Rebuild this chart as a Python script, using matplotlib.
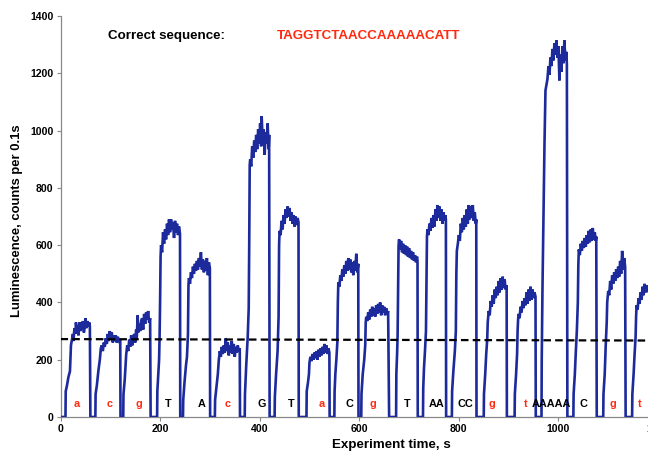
import matplotlib
matplotlib.use("Agg")
import matplotlib.pyplot as plt

# ---------------- data ----------------
trace_time = [
    # a
    0, 10, 10.5, 13, 16, 19, 21, 23, 25, 26, 28, 30, 31, 33, 35, 36, 38, 40, 42, 44, 45, 47, 49, 50, 52, 54, 56, 58, 59, 60, 70,
    # c
    70.5, 73, 76, 79, 81, 83, 85, 87, 89, 91, 93, 95, 97, 99, 101, 103, 105, 107, 109, 111, 113, 115, 118, 120, 120.5, 126,
    # g
    126.5, 129, 132, 134, 136, 138, 140, 142, 144, 146, 148, 150, 152, 153, 155, 156, 158, 160, 162, 164, 166, 168, 170, 172, 174, 176, 178, 180, 181, 194,
    # T
    194.5, 196, 198, 199, 200, 201, 202, 204, 206, 208, 210, 212, 214, 216, 218, 220, 222, 224, 226, 228, 230, 232, 234, 236, 238, 240, 240.5, 246,
    # A
    246.5, 249, 252, 254, 256, 257, 258, 260, 262, 264, 266, 268, 270, 272, 274, 276, 278, 280, 282, 284, 286, 288, 290, 292, 294, 296, 298, 300, 300.5, 310,
    # c
    310.5, 313, 316, 318, 320, 322, 324, 326, 328, 330, 332, 334, 336, 338, 340, 342, 344, 346, 348, 350, 352, 354, 356, 358, 360, 360.5, 370,
    # G
    370.5, 373, 376, 378, 379, 380, 381, 383, 385, 387, 389, 391, 393, 395, 397, 399, 401, 403, 404, 406, 408, 410, 412, 414, 416, 418, 419, 420, 430,
    # T
    430.5, 433, 436, 438, 439, 440, 442, 444, 446, 448, 450, 452, 454, 456, 458, 460, 462, 464, 466, 468, 470, 472, 474, 476, 478, 478.5, 494,
    # a
    494.5, 497, 499, 500, 502, 504, 506, 508, 510, 512, 514, 516, 518, 520, 522, 524, 526, 528, 530, 532, 534, 536, 538, 540, 540.5, 550,
    # C
    550.5, 552, 554, 556, 557, 558, 560, 562, 564, 566, 568, 570, 572, 574, 576, 578, 580, 582, 584, 586, 588, 590, 592, 594, 596, 598, 598.5, 604,
    # g
    604.5, 607, 610, 612, 613, 614, 616, 618, 620, 622, 624, 626, 628, 630, 632, 634, 636, 638, 640, 642, 644, 646, 648, 650, 652, 654, 656, 658, 660, 674,
    # T
    674.5, 676, 677, 678, 679, 680, 682, 684, 686, 688, 690, 692, 694, 696, 698, 700, 702, 704, 706, 708, 710, 712, 714, 716, 717, 717.5, 728,
    # AA
    728.5, 730, 732, 734, 735, 736, 737, 739, 741, 743, 745, 747, 749, 751, 753, 755, 757, 759, 761, 763, 765, 767, 769, 771, 773, 774, 774.5, 786,
    # CC
    786.5, 789, 792, 794, 795, 796, 798, 800, 802, 804, 806, 808, 810, 812, 814, 816, 818, 820, 822, 824, 826, 828, 830, 832, 834, 835, 835.5, 850,
    # g
    850.5, 853, 855, 857, 858, 860, 862, 864, 866, 868, 870, 872, 874, 876, 878, 880, 882, 884, 886, 888, 890, 892, 894, 896, 896.5, 912,
    # t
    912.5, 915, 917, 918, 919, 920, 922, 924, 926, 928, 930, 932, 934, 936, 938, 940, 942, 944, 946, 948, 950, 952, 954, 954.5, 966,
    # AAAAA
    966.5, 968, 970, 972, 974, 976, 978, 980, 982, 984, 986, 988, 990, 992, 994, 996, 998, 1000, 1002, 1004, 1006, 1008, 1010, 1012, 1014, 1016, 1017, 1018, 1030,
    # C
    1030.5, 1033, 1035, 1037, 1039, 1040, 1041, 1043, 1045, 1047, 1049, 1051, 1053, 1055, 1057, 1059, 1061, 1063, 1065, 1067, 1069, 1071, 1073, 1075, 1076, 1077, 1090,
    # g
    1090.5, 1093, 1095, 1097, 1098, 1100, 1102, 1104, 1106, 1108, 1110, 1112, 1114, 1116, 1118, 1120, 1122, 1124, 1126, 1128, 1130, 1132, 1134, 1135, 1148,
    # t
    1148.5, 1151, 1153, 1155, 1156, 1157, 1159, 1161, 1163, 1165, 1167, 1169, 1171, 1173, 1175, 1177, 1180,
]
trace_counts = [
    # a
    0, 0, 90, 110, 140, 160, 250, 270, 290, 265, 310, 290, 330, 300, 320, 285, 330, 300, 330, 305, 335, 295, 320, 345, 310, 335, 315, 330, 315, 0, 0,
    # c
    80, 110, 160, 200, 240, 250, 230, 260, 245, 275, 255, 290, 265, 300, 275, 295, 260, 285, 265, 285, 260, 280, 265, 270, 0, 0,
    # g
    80, 130, 220, 250, 230, 270, 245, 285, 250, 275, 290, 260, 305, 270, 355, 295, 325, 300, 335, 345, 305, 360, 325, 365, 340, 370, 330, 345, 0, 0,
    # T
    90, 140, 200, 280, 400, 560, 600, 575, 645, 605, 655, 620, 675, 635, 690, 645, 690, 655, 680, 625, 685, 645, 675, 635, 665, 640, 0, 0,
    # A
    60, 120, 180, 210, 290, 460, 485, 465, 505, 485, 525, 500, 535, 510, 545, 515, 555, 525, 575, 515, 550, 505, 545, 510, 555, 495, 540, 520, 0, 0,
    # c
    60, 100, 150, 200, 230, 210, 245, 220, 250, 225, 275, 230, 260, 215, 250, 225, 265, 220, 255, 210, 245, 225, 250, 230, 240, 0, 0,
    # G
    80, 180, 280, 380, 600, 880, 900, 875, 945, 905, 965, 925, 985, 935, 1005, 955, 1025, 945, 1050, 965, 1005, 915, 995, 955, 1025, 935, 985, 0, 0,
    # T
    70, 150, 230, 350, 600, 650, 635, 685, 655, 705, 675, 725, 695, 735, 700, 730, 685, 715, 675, 705, 665, 700, 670, 695, 680, 0, 0,
    # a
    90, 120, 150, 190, 210, 195, 220, 200, 225, 205, 230, 200, 235, 210, 240, 215, 245, 220, 255, 225, 250, 220, 240, 225, 0, 0,
    # C
    90, 150, 200, 260, 400, 470, 455, 495, 475, 515, 490, 530, 500, 545, 510, 555, 515, 550, 505, 540, 495, 545, 510, 570, 505, 535, 0, 0,
    # g
    80, 150, 200, 250, 330, 350, 335, 365, 340, 375, 350, 385, 355, 380, 350, 390, 360, 395, 365, 400, 355, 390, 365, 385, 355, 380, 360, 370, 0, 0,
    # T
    150, 220, 280, 450, 600, 620, 585, 615, 575, 605, 570, 600, 565, 595, 560, 590, 555, 580, 550, 575, 545, 565, 540, 560, 545, 0, 0,
    # AA
    100, 170, 230, 300, 450, 630, 655, 635, 675, 650, 695, 660, 705, 665, 725, 685, 740, 695, 735, 685, 725, 675, 715, 685, 705, 690, 0, 0,
    # CC
    90, 160, 230, 300, 500, 580, 605, 635, 615, 675, 645, 695, 655, 705, 665, 725, 675, 740, 690, 735, 695, 740, 685, 715, 675, 690, 0, 0,
    # g
    80, 150, 220, 270, 330, 370, 355, 405, 385, 425, 395, 445, 415, 455, 425, 475, 435, 485, 445, 490, 450, 480, 445, 460, 0, 0,
    # t
    80, 150, 220, 300, 340, 360, 345, 385, 365, 405, 380, 415, 390, 435, 395, 445, 405, 455, 410, 445, 415, 435, 420, 0, 0,
    # AAAAA
    200, 450, 700, 950, 1140, 1160, 1180, 1225, 1195, 1255, 1225, 1285, 1245, 1305, 1265, 1315, 1255, 1295, 1175, 1265, 1205, 1295, 1235, 1315, 1245, 1275, 1230, 0, 0,
    # C
    80, 150, 230, 300, 400, 530, 585, 565, 605, 580, 615, 590, 625, 595, 635, 605, 650, 610, 655, 615, 660, 620, 645, 615, 630, 0, 0,
    # g
    80, 150, 250, 330, 400, 440, 425, 475, 445, 495, 465, 505, 475, 515, 485, 525, 490, 545, 500, 580, 515, 555, 525, 0, 0,
    # t
    80, 150, 220, 280, 350, 390, 375, 415, 395, 435, 410, 455, 425, 465, 435, 460, 440,
]

threshold_x = [0, 1180]
threshold_y = [272, 267]

base_labels = ["a", "c", "g", "T", "A", "c", "G", "T", "a", "C", "g", "T", "AA", "CC",
               "g", "t", "AAAAA", "C", "g", "t"]
base_label_x = [32, 98, 158, 216, 284, 336, 404, 464, 524, 580, 628, 696, 756, 814,
                866, 934, 986, 1050, 1110, 1164]

correct_sequence = "TAGGTCTAACCAAAAACATT"

x_ticks = [0, 200, 400, 600, 800, 1000, 1200]
y_ticks = [0, 200, 400, 600, 800, 1000, 1200, 1400]

# ---------------- figure ----------------
plt.rcParams['font.family'] = ['Liberation Sans', 'DejaVu Sans']
plt.rcParams['font.weight'] = 'bold'

W, H = 648, 451
fig = plt.figure(figsize=(W / 100, H / 100), dpi=100)
left_px, right_px, top_px, bottom_px = 60.5, 658, 16, 417
ax = fig.add_axes([left_px / W, 1 - bottom_px / H,
                   (right_px - left_px) / W, (bottom_px - top_px) / H])

ax.plot(trace_time, trace_counts, color='#1c2a9c', lw=1.9, solid_joinstyle='miter', zorder=3)
dl, = ax.plot(threshold_x, threshold_y, color='black', lw=1.6, zorder=4)
dl.set_dashes([3.4, 1.9])

red = '#ff2a10'
for lab, x in zip(base_labels, base_label_x):
    col = red if lab.islower() else 'black'
    ax.text(x, 45, lab, color=col, fontsize=7.8, fontweight='bold',
            ha='center', va='center', zorder=5)

ax.text(96, 1330, "Correct sequence:", color='black', fontsize=9.6,
        fontweight='bold', ha='left', va='center')
ax.text(434, 1330, correct_sequence, color=red, fontsize=9.6,
        fontweight='bold', ha='left', va='center')

ax.set_xlim(0, 1200)
ax.set_ylim(0, 1400)
ax.set_xticks(x_ticks)
ax.set_yticks(y_ticks)
ax.tick_params(axis='both', direction='out', length=3, width=0.8, color='#888888',
               labelsize=7.6, pad=2)
for lbl in ax.get_xticklabels() + ax.get_yticklabels():
    lbl.set_fontweight('bold')
ax.spines['top'].set_visible(False)
ax.spines['right'].set_visible(False)
ax.spines['left'].set_color('#888888')
ax.spines['bottom'].set_color('#888888')
ax.spines['left'].set_linewidth(0.9)
ax.spines['bottom'].set_linewidth(0.9)

fig.text(17 / W, 1 - 221 / H, "Luminescence, counts per 0.1s", rotation=90,
         fontsize=9.4, fontweight='bold', ha='center', va='center')
fig.text(391 / W, 1 - 445 / H, "Experiment time, s", fontsize=9.6,
         fontweight='bold', ha='center', va='center')

fig.savefig("out.png", dpi=100)
